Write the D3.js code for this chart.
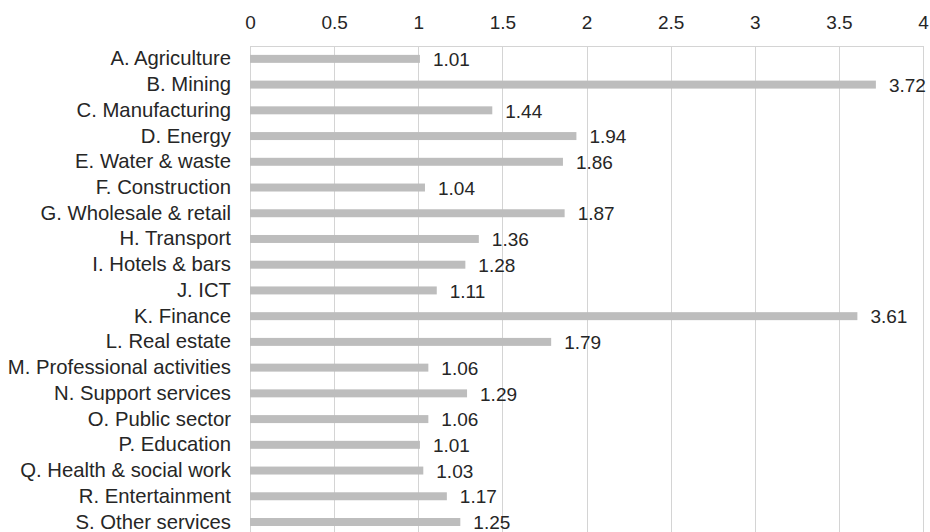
<!DOCTYPE html>
<html>
<head>
<meta charset="utf-8">
<script src="https://cdn.jsdelivr.net/npm/d3@7"></script>
<style>
  html, body { margin: 0; padding: 0; background: #fff; }
  svg { display: block; font-family: "Liberation Sans", Arial, Helvetica, sans-serif; }
</style>
</head>
<body>
<svg id="chart" width="930" height="532"></svg>
<script>
// Sector names and their ratio values
const sectors = [
  "A. Agriculture", "B. Mining", "C. Manufacturing", "D. Energy",
  "E. Water & waste", "F. Construction", "G. Wholesale & retail",
  "H. Transport", "I. Hotels & bars", "J. ICT", "K. Finance",
  "L. Real estate", "M. Professional activities", "N. Support services",
  "O. Public sector", "P. Education", "Q. Health & social work",
  "R. Entertainment", "S. Other services"
];
const values = [
  1.01, 3.72, 1.44, 1.94, 1.86, 1.04, 1.87, 1.36, 1.28, 1.11,
  3.61, 1.79, 1.06, 1.29, 1.06, 1.01, 1.03, 1.17, 1.25
];
const tickValues = [0, 0.5, 1, 1.5, 2, 2.5, 3, 3.5, 4];

const rows = sectors.map((s, i) => ({ sector: s, value: values[i] }));

const margin = { top: 46, left: 250, right: 7 };
const plotW = 930 - margin.left - margin.right;
const plotH = 19 * 25.73;

const svg = d3.select("#chart");
const g = svg.append("g").attr("transform", `translate(${margin.left},${margin.top})`);

const x = d3.scaleLinear().domain([0, 4]).range([0, plotW]);
const y = d3.scaleBand().domain(sectors).range([0, plotH]).paddingInner(0.69).paddingOuter(0.345);

// Vertical gridlines
g.append("g")
  .selectAll("line")
  .data(tickValues)
  .join("line")
  .attr("x1", d => Math.round(x(d)) + 0.5)
  .attr("x2", d => Math.round(x(d)) + 0.5)
  .attr("y1", 0)
  .attr("y2", plotH)
  .attr("stroke", "#d4d4d4")
  .attr("stroke-width", 1);

// Top axis with tick labels
const xAxis = d3.axisTop(x).tickValues(tickValues).tickSize(0).tickPadding(17)
  .tickFormat(d3.format("~g"));
const ax = g.append("g").call(xAxis);
ax.select(".domain").attr("stroke", "#d4d4d4").attr("d", `M0,0.5H${plotW}`);
ax.selectAll("text")
  .attr("font-size", 19)
  .attr("fill", "#262626")
  .attr("font-family", "\"Liberation Sans\", Arial, sans-serif");

// Category labels
const yAxis = d3.axisLeft(y).tickSize(0).tickPadding(19);
const ay = g.append("g").call(yAxis);
ay.select(".domain").remove();
ay.selectAll("text")
  .attr("font-size", 20.3)
  .attr("fill", "#262626")
  .attr("font-family", "\"Liberation Sans\", Arial, sans-serif");

// Bars
g.append("g")
  .selectAll("rect")
  .data(rows)
  .join("rect")
  .attr("x", 0)
  .attr("y", d => y(d.sector))
  .attr("width", d => x(d.value))
  .attr("height", y.bandwidth())
  .attr("fill", "#bdbdbd");

// Value labels
g.append("g")
  .selectAll("text")
  .data(rows)
  .join("text")
  .attr("x", d => x(d.value) + 13)
  .attr("y", d => y(d.sector) + y.bandwidth() / 2)
  .attr("dy", "0.38em")
  .attr("font-size", 19)
  .attr("fill", "#262626")
  .text(d => d3.format(".2f")(d.value));
</script>
</body>
</html>
